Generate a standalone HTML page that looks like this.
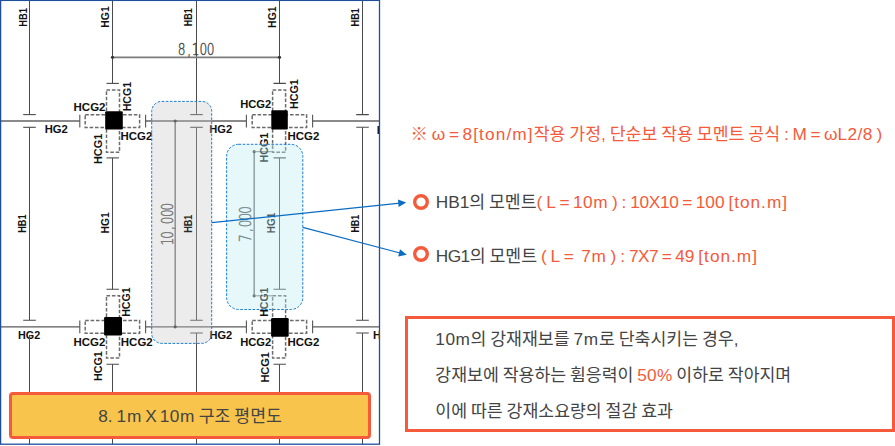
<!DOCTYPE html>
<html lang="ko">
<head>
<meta charset="utf-8">
<title>8.1m X 10m 구조 평면도</title>
<style>
html,body{margin:0;padding:0;background:#fff;}
body{width:895px;height:446px;position:relative;overflow:hidden;font-family:"Liberation Sans","Noto Sans CJK KR",sans-serif;}
#plan{position:absolute;left:0;top:0;width:895px;height:446px;}
#plan text{font-family:"Liberation Sans","Noto Sans CJK KR",sans-serif;}
#plan text.dim{font-family:"DejaVu Sans","Liberation Sans",sans-serif;font-weight:200;font-size:15.6px;fill:#4a4a4a;stroke:#4a4a4a;stroke-width:0.45px;}
.t{position:absolute;margin:0;font-size:17.25px;line-height:26px;color:#444;white-space:nowrap;word-spacing:-0.922px;}
.t b,.t em{font-weight:400;font-style:normal;color:#f55a3a;}
.banner{position:absolute;left:9.1px;top:392px;width:356px;height:40.8px;border:3px solid #f55a3a;border-radius:4px;background:#f8c44c;}
.banner .t{left:0;right:0;top:7.9px;text-align:center;}
.note{left:410.6px;top:121.2px;color:#f55a3a;}
.r1{left:435.7px;top:188.7px;}
.r2{left:435.7px;top:243.4px;}
.callout{position:absolute;left:405px;top:316px;width:484px;height:110px;border:3px solid #f55a3a;background:#fff;}
.callout .t{left:27.3px;}
</style>
</head>
<body>
<svg id="plan" width="895" height="446" viewBox="0 0 895 446">
<defs><clipPath id="clipPlan"><rect x="0" y="0" width="379.5" height="444.2"/></clipPath></defs>
<g clip-path="url(#clipPlan)">
<line x1="29.5" y1="0.5" x2="29.5" y2="114.6" stroke="#4a4a4a" stroke-width="1" />
<line x1="29.5" y1="127.3" x2="29.5" y2="320.3" stroke="#4a4a4a" stroke-width="1" />
<line x1="29.5" y1="333.0" x2="29.5" y2="444.2" stroke="#4a4a4a" stroke-width="1" />
<line x1="23.2" y1="114.6" x2="35.8" y2="114.6" stroke="#4a4a4a" stroke-width="1.1" />
<line x1="23.2" y1="127.3" x2="35.8" y2="127.3" stroke="#4a4a4a" stroke-width="1.1" />
<line x1="23.2" y1="320.3" x2="35.8" y2="320.3" stroke="#4a4a4a" stroke-width="1.1" />
<line x1="23.2" y1="333.0" x2="35.8" y2="333.0" stroke="#4a4a4a" stroke-width="1.1" />
<line x1="196.5" y1="0.5" x2="196.5" y2="114.6" stroke="#4a4a4a" stroke-width="1" />
<line x1="196.5" y1="127.3" x2="196.5" y2="320.3" stroke="#4a4a4a" stroke-width="1" />
<line x1="196.5" y1="333.0" x2="196.5" y2="444.2" stroke="#4a4a4a" stroke-width="1" />
<line x1="190.2" y1="114.6" x2="202.8" y2="114.6" stroke="#4a4a4a" stroke-width="1.1" />
<line x1="190.2" y1="127.3" x2="202.8" y2="127.3" stroke="#4a4a4a" stroke-width="1.1" />
<line x1="190.2" y1="320.3" x2="202.8" y2="320.3" stroke="#4a4a4a" stroke-width="1.1" />
<line x1="190.2" y1="333.0" x2="202.8" y2="333.0" stroke="#4a4a4a" stroke-width="1.1" />
<line x1="362.5" y1="0.5" x2="362.5" y2="114.6" stroke="#4a4a4a" stroke-width="1" />
<line x1="362.5" y1="127.3" x2="362.5" y2="320.3" stroke="#4a4a4a" stroke-width="1" />
<line x1="362.5" y1="333.0" x2="362.5" y2="444.2" stroke="#4a4a4a" stroke-width="1" />
<line x1="356.2" y1="114.6" x2="368.8" y2="114.6" stroke="#4a4a4a" stroke-width="1.1" />
<line x1="356.2" y1="127.3" x2="368.8" y2="127.3" stroke="#4a4a4a" stroke-width="1.1" />
<line x1="356.2" y1="320.3" x2="368.8" y2="320.3" stroke="#4a4a4a" stroke-width="1.1" />
<line x1="356.2" y1="333.0" x2="368.8" y2="333.0" stroke="#4a4a4a" stroke-width="1.1" />
<line x1="112.5" y1="0.5" x2="112.5" y2="83.4" stroke="#4a4a4a" stroke-width="1" />
<line x1="112.5" y1="157.9" x2="112.5" y2="289.3" stroke="#4a4a4a" stroke-width="1" />
<line x1="112.5" y1="364.2" x2="112.5" y2="444.2" stroke="#4a4a4a" stroke-width="1" />
<line x1="106.5" y1="83.4" x2="118.9" y2="83.4" stroke="#4a4a4a" stroke-width="1.1" />
<line x1="106.5" y1="157.9" x2="118.9" y2="157.9" stroke="#4a4a4a" stroke-width="1.1" />
<line x1="106.5" y1="289.3" x2="118.9" y2="289.3" stroke="#4a4a4a" stroke-width="1.1" />
<line x1="106.5" y1="364.2" x2="118.9" y2="364.2" stroke="#4a4a4a" stroke-width="1.1" />
<line x1="279.5" y1="0.5" x2="279.5" y2="83.4" stroke="#4a4a4a" stroke-width="1" />
<line x1="279.5" y1="157.9" x2="279.5" y2="289.3" stroke="#4a4a4a" stroke-width="1" />
<line x1="279.5" y1="364.2" x2="279.5" y2="444.2" stroke="#4a4a4a" stroke-width="1" />
<line x1="273.5" y1="83.4" x2="285.9" y2="83.4" stroke="#4a4a4a" stroke-width="1.1" />
<line x1="273.5" y1="157.9" x2="285.9" y2="157.9" stroke="#4a4a4a" stroke-width="1.1" />
<line x1="273.5" y1="289.3" x2="285.9" y2="289.3" stroke="#4a4a4a" stroke-width="1.1" />
<line x1="273.5" y1="364.2" x2="285.9" y2="364.2" stroke="#4a4a4a" stroke-width="1.1" />
<line x1="1.0" y1="121.0" x2="79.8" y2="121.0" stroke="#8a8a8a" stroke-width="2" />
<line x1="145.6" y1="121.0" x2="246.4" y2="121.0" stroke="#8a8a8a" stroke-width="2" />
<line x1="312.6" y1="121.0" x2="379.5" y2="121.0" stroke="#8a8a8a" stroke-width="2" />
<line x1="79.8" y1="114.7" x2="79.8" y2="127.4" stroke="#555" stroke-width="1.1" />
<line x1="145.6" y1="114.7" x2="145.6" y2="127.4" stroke="#555" stroke-width="1.1" />
<line x1="246.4" y1="114.7" x2="246.4" y2="127.4" stroke="#555" stroke-width="1.1" />
<line x1="312.6" y1="114.7" x2="312.6" y2="127.4" stroke="#555" stroke-width="1.1" />
<line x1="1.0" y1="326.8" x2="79.8" y2="326.8" stroke="#5a5a5a" stroke-width="1.3" />
<line x1="145.6" y1="326.8" x2="246.4" y2="326.8" stroke="#5a5a5a" stroke-width="1.3" />
<line x1="312.6" y1="326.8" x2="379.5" y2="326.8" stroke="#5a5a5a" stroke-width="1.3" />
<line x1="79.8" y1="320.5" x2="79.8" y2="333.2" stroke="#555" stroke-width="1.1" />
<line x1="145.6" y1="320.5" x2="145.6" y2="333.2" stroke="#555" stroke-width="1.1" />
<line x1="246.4" y1="320.5" x2="246.4" y2="333.2" stroke="#555" stroke-width="1.1" />
<line x1="312.6" y1="320.5" x2="312.6" y2="333.2" stroke="#555" stroke-width="1.1" />
<rect x="106.5" y="89.9" width="13" height="62.4" fill="none" stroke="#6c6c6c" stroke-width="1.5" stroke-dasharray="3.6 1.8"/>
<rect x="85.2" y="114.8" width="54.4" height="12.6" fill="none" stroke="#6c6c6c" stroke-width="1.5" stroke-dasharray="3.6 1.8"/>
<rect x="105.2" y="111.2" width="17.6" height="18.3" rx="1.2" fill="#000"/>
<rect x="106.5" y="295.7" width="13" height="62.4" fill="none" stroke="#6c6c6c" stroke-width="1.5" stroke-dasharray="3.6 1.8"/>
<rect x="85.2" y="320.6" width="54.4" height="12.6" fill="none" stroke="#6c6c6c" stroke-width="1.5" stroke-dasharray="3.6 1.8"/>
<rect x="104.1" y="317.1" width="17.9" height="18.3" rx="1.2" fill="#000"/>
<rect x="272.6" y="89.9" width="13" height="62.4" fill="none" stroke="#6c6c6c" stroke-width="1.5" stroke-dasharray="3.6 1.8"/>
<rect x="252.2" y="114.8" width="54.4" height="12.6" fill="none" stroke="#6c6c6c" stroke-width="1.5" stroke-dasharray="3.6 1.8"/>
<rect x="271.3" y="110.3" width="16.5" height="19.2" rx="1.2" fill="#000"/>
<rect x="272.6" y="295.7" width="13" height="62.4" fill="none" stroke="#6c6c6c" stroke-width="1.5" stroke-dasharray="3.6 1.8"/>
<rect x="252.2" y="320.6" width="54.4" height="12.6" fill="none" stroke="#6c6c6c" stroke-width="1.5" stroke-dasharray="3.6 1.8"/>
<rect x="271.1" y="318.1" width="17.6" height="18.6" rx="1.2" fill="#000"/>
<line x1="112.5" y1="57.3" x2="279.5" y2="57.3" stroke="#7c7c7c" stroke-width="1.8" />
<circle cx="112.5" cy="57.3" r="1.6" fill="#333"/>
<circle cx="279.5" cy="57.3" r="1.6" fill="#333"/>
<text class="dim" transform="translate(177.8,54.9) scale(0.78,1)" x="0.0 12.0 17.8 27.7 37.2" y="0">8,100</text>
<line x1="175.2" y1="121.0" x2="175.2" y2="326.8" stroke="#777" stroke-width="1.5" />
<circle cx="175.2" cy="121.0" r="1.6" fill="#333"/>
<circle cx="175.2" cy="326.8" r="1.6" fill="#333"/>
<line x1="254.2" y1="151.7" x2="254.2" y2="295.8" stroke="#777" stroke-width="1.5" />
<circle cx="254.2" cy="151.7" r="1.6" fill="#333"/>
<line x1="254.2" y1="151.7" x2="273.0" y2="151.7" stroke="#777" stroke-width="1" />
<circle cx="254.2" cy="295.8" r="1.6" fill="#333"/>
<line x1="254.2" y1="295.8" x2="273.0" y2="295.8" stroke="#777" stroke-width="1" />
<text transform="translate(26.5,26.7) rotate(-90)" font-size="11.6" font-weight="700" fill="#111" textLength="18.6" lengthAdjust="spacingAndGlyphs" >HB1</text>
<text transform="translate(108.9,27.8) rotate(-90)" font-size="11.6" font-weight="700" fill="#111" textLength="21.5" lengthAdjust="spacingAndGlyphs" >HG1</text>
<text transform="translate(192.4,26.2) rotate(-90)" font-size="11.6" font-weight="700" fill="#111" textLength="17.9" lengthAdjust="spacingAndGlyphs" >HB1</text>
<text transform="translate(275.5,27.9) rotate(-90)" font-size="11.6" font-weight="700" fill="#111" textLength="21.5" lengthAdjust="spacingAndGlyphs" >HG1</text>
<text transform="translate(359.2,26.4) rotate(-90)" font-size="11.6" font-weight="700" fill="#111" textLength="18.2" lengthAdjust="spacingAndGlyphs" >HB1</text>
<text transform="translate(26.1,232.8) rotate(-90)" font-size="11.6" font-weight="700" fill="#111" textLength="18.3" lengthAdjust="spacingAndGlyphs" >HB1</text>
<text transform="translate(108.6,233.5) rotate(-90)" font-size="11.6" font-weight="700" fill="#111" textLength="21.2" lengthAdjust="spacingAndGlyphs" >HG1</text>
<text transform="translate(275.3,233.2) rotate(-90)" font-size="11.6" font-weight="700" fill="#111" textLength="20.4" lengthAdjust="spacingAndGlyphs" >HG1</text>
<text transform="translate(359.2,232.6) rotate(-90)" font-size="11.6" font-weight="700" fill="#111" textLength="17.9" lengthAdjust="spacingAndGlyphs" >HB1</text>
<text x="73.5" y="111.3" font-size="11.6" font-weight="700" fill="#111" textLength="32.0" lengthAdjust="spacingAndGlyphs" >HCG2</text>
<text transform="translate(131.0,111.3) rotate(-90)" font-size="11.6" font-weight="700" fill="#111" textLength="29.4" lengthAdjust="spacingAndGlyphs" >HCG1</text>
<text x="120.5" y="140.3" font-size="11.6" font-weight="700" fill="#111" textLength="31.8" lengthAdjust="spacingAndGlyphs" >HCG2</text>
<text transform="translate(101.8,164.0) rotate(-90)" font-size="11.6" font-weight="700" fill="#111" textLength="30.3" lengthAdjust="spacingAndGlyphs" >HCG1</text>
<text x="44.7" y="133.3" font-size="11.6" font-weight="700" fill="#111" textLength="23.1" lengthAdjust="spacingAndGlyphs" >HG2</text>
<text x="240.2" y="107.8" font-size="11.6" font-weight="700" fill="#111" textLength="31.1" lengthAdjust="spacingAndGlyphs" >HCG2</text>
<text transform="translate(298.0,109.1) rotate(-90)" font-size="11.6" font-weight="700" fill="#111" textLength="29.9" lengthAdjust="spacingAndGlyphs" >HCG1</text>
<text x="287.5" y="139.8" font-size="11.6" font-weight="700" fill="#111" textLength="31.8" lengthAdjust="spacingAndGlyphs" >HCG2</text>
<text transform="translate(268.3,162.5) rotate(-90)" font-size="11.6" font-weight="700" fill="#111" textLength="29.8" lengthAdjust="spacingAndGlyphs" >HCG1</text>
<text x="209.3" y="133.3" font-size="11.6" font-weight="700" fill="#111" textLength="22.9" lengthAdjust="spacingAndGlyphs" >HG2</text>
<text x="376.8" y="133.5" font-size="11.6" font-weight="700" fill="#111" textLength="23.0" lengthAdjust="spacingAndGlyphs" >HG2</text>
<text transform="translate(130.3,316.8) rotate(-90)" font-size="11.6" font-weight="700" fill="#111" textLength="29.5" lengthAdjust="spacingAndGlyphs" >HCG1</text>
<text x="73.5" y="345.8" font-size="11.6" font-weight="700" fill="#111" textLength="31.8" lengthAdjust="spacingAndGlyphs" >HCG2</text>
<text x="120.8" y="345.8" font-size="11.6" font-weight="700" fill="#111" textLength="31.9" lengthAdjust="spacingAndGlyphs" >HCG2</text>
<text transform="translate(102.1,381.0) rotate(-90)" font-size="11.6" font-weight="700" fill="#111" textLength="29.8" lengthAdjust="spacingAndGlyphs" >HCG1</text>
<rect x="17" y="330" width="24.5" height="10" fill="#fff"/>
<text x="18.0" y="339.0" font-size="11.6" font-weight="700" fill="#111" textLength="22.2" lengthAdjust="spacingAndGlyphs" >HG2</text>
<line x1="29.5" y1="335.0" x2="29.5" y2="340.0" stroke="#4a4a4a" stroke-width="1" />
<text transform="translate(268.3,316.8) rotate(-90)" font-size="11.6" font-weight="700" fill="#111" textLength="29.2" lengthAdjust="spacingAndGlyphs" >HCG1</text>
<text x="240.2" y="345.8" font-size="11.6" font-weight="700" fill="#111" textLength="31.1" lengthAdjust="spacingAndGlyphs" >HCG2</text>
<text x="287.5" y="345.8" font-size="11.6" font-weight="700" fill="#111" textLength="31.8" lengthAdjust="spacingAndGlyphs" >HCG2</text>
<text transform="translate(268.7,382.6) rotate(-90)" font-size="11.6" font-weight="700" fill="#111" textLength="30.6" lengthAdjust="spacingAndGlyphs" >HCG1</text>
<text x="209.4" y="338.8" font-size="11.6" font-weight="700" fill="#111" textLength="22.8" lengthAdjust="spacingAndGlyphs" >HG2</text>
<text x="373.0" y="338.8" font-size="11.6" font-weight="700" fill="#111" textLength="23.0" lengthAdjust="spacingAndGlyphs" >HG2</text>
<text class="dim" transform="translate(172.9,245.5) rotate(-90) scale(0.78,1)" x="0.0 8.6 19.8 27.3 36.4 44.9" y="0">10,000</text>
<text class="dim" transform="translate(251.1,242.1) rotate(-90) scale(0.78,1)" x="0.0 13.0 19.1 27.6 36.3" y="0">7,000</text>
<rect x="151.7" y="101.4" width="60" height="242" rx="10" fill="rgba(197,197,197,0.33)" stroke="#0f76d2" stroke-width="0.95" stroke-dasharray="2.6 1.5"/>
<rect x="226.6" y="144.3" width="76.2" height="165.2" rx="12" fill="rgba(187,236,241,0.37)" stroke="#0f76d2" stroke-width="0.95" stroke-dasharray="2.6 1.5"/>
<text transform="translate(192.4,232.8) rotate(-90)" font-size="11.6" font-weight="700" fill="#2a2a2a" textLength="18.2" lengthAdjust="spacingAndGlyphs" >HB1</text>
</g>
<rect x="0.6" y="0.4" width="378.9" height="443.8" fill="none" stroke="#1f4f9b" stroke-width="1.3"/>
<line x1="211.7" y1="222.7" x2="400" y2="203.2" stroke="#0b6cc4" stroke-width="1.2"/>
<polygon points="406.2,202.6 398.6,206.9 398.0,199.5" fill="#0b6cc4"/>
<line x1="302.8" y1="227.4" x2="400" y2="253" stroke="#0b6cc4" stroke-width="1.2"/>
<polygon points="406.8,254.8 398.2,256.4 400.0,249.2" fill="#0b6cc4"/>
<circle cx="421" cy="202" r="6.3" fill="none" stroke="#f55a3a" stroke-width="3.4"/>
<circle cx="421" cy="254" r="6.3" fill="none" stroke="#f55a3a" stroke-width="3.4"/>
</svg>
<div class="banner"><p class="t">8. <span style="letter-spacing:0.80px">1m</span> <span style="letter-spacing:-0.81px;margin-left:-0.81px">X</span> <span style="letter-spacing:0.52px">10m</span> 구조 평면도</p></div>
<p class="t note">※ ω <span style="letter-spacing:-0.50px">=</span> <span style="letter-spacing:1.11px">8[ton/m]</span>작용 가정, 단순보 작용 모멘트 공식 : <span style="letter-spacing:-0.36px">M</span> <span style="letter-spacing:-0.50px">=</span> ω<span style="letter-spacing:0.43px">L2/8</span> )</p>
<p class="t r1">HB1의 모멘트<b>( <span style="letter-spacing:-0.22px">L</span> <span style="letter-spacing:-0.50px">=</span> <span style="letter-spacing:0.52px">10m</span> ) : <span style="letter-spacing:-0.34px">10X10</span> <span style="letter-spacing:-0.50px">=</span> 100 <span style="letter-spacing:0.99px">[ton.m]</span></b></p>
<p class="t r2"><span style="letter-spacing:-0.48px">HG1</span>의 모멘트 <b>( <span style="letter-spacing:-0.22px">L</span> <span style="letter-spacing:-0.50px">=</span>&nbsp; <span style="letter-spacing:0.80px">7m</span> ) : <span style="letter-spacing:-0.55px">7X7</span> <span style="letter-spacing:-0.50px">=</span> 49 <span style="letter-spacing:0.99px">[ton.m]</span></b></p>
<div class="callout">
<p class="t" style="top:7.3px"><span style="letter-spacing:0.52px">10m</span>의 강재재보를 <span style="letter-spacing:0.80px">7m</span>로 단축시키는 경우,</p>
<p class="t" style="top:43.3px">강재보에 작용하는 휨응력이 <em><span style="letter-spacing:0.17px">50%</span></em> 이하로 작아지며</p>
<p class="t" style="top:79.3px">이에 따른 강재소요량의 절감 효과</p>
</div>
</body>
</html>
